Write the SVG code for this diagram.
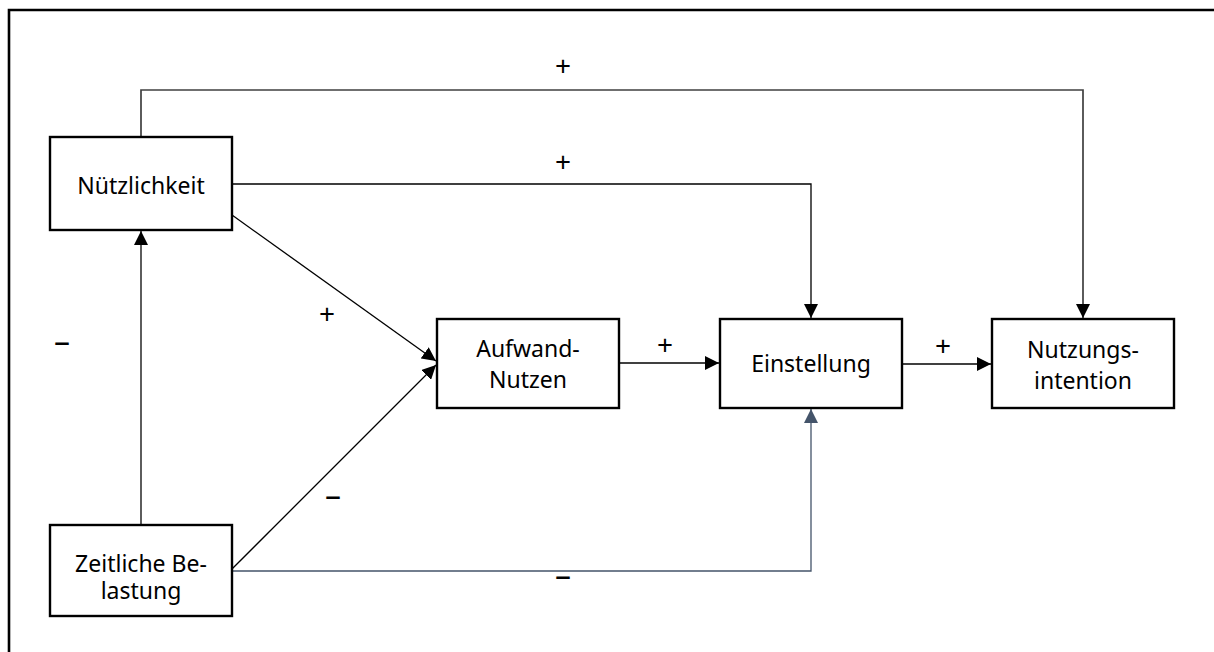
<svg xmlns="http://www.w3.org/2000/svg" width="1214" height="652" viewBox="0 0 1214 652">
  <style>
    .box { fill: #ffffff; stroke: #000000; stroke-width: 2.4; }
    .lbl { font-family: "Noto Sans", "Open Sans", sans-serif; font-size: 23px; fill: #000000; text-anchor: middle; }
    .sign { font-family: "Noto Sans", "Open Sans", sans-serif; font-size: 28px; fill: #000000; text-anchor: middle; }
    .dash { font-family: "Noto Sans", "Open Sans", sans-serif; font-size: 32px; fill: #000000; text-anchor: middle; }
    .edge { fill: none; stroke: #000000; stroke-width: 1.3; }
    .edge-gray { fill: none; stroke: #404040; stroke-width: 1.7; }
    .edge-slate { fill: none; stroke: #44546A; stroke-width: 1.3; }
  </style>
  <defs>
    <marker id="arrow" viewBox="0 0 10 10" refX="10" refY="5" markerWidth="14" markerHeight="14" markerUnits="userSpaceOnUse" orient="auto">
      <path d="M0,0 L10,5 L0,10 Z" fill="#000000"/>
    </marker>
    <marker id="arrow-slate" viewBox="0 0 10 10" refX="10" refY="5" markerWidth="14" markerHeight="14" markerUnits="userSpaceOnUse" orient="auto">
      <path d="M0,0 L10,5 L0,10 Z" fill="#44546A"/>
    </marker>
  </defs>

  <rect width="1214" height="652" fill="#ffffff"/>
  <!-- outer frame (only top and left edges fall inside the canvas) -->
  <path d="M9,700 L9,10 L1300,10" fill="none" stroke="#000000" stroke-width="2.6"/>

  <g id="connectors">
    <!-- Nützlichkeit -> Nutzungsintention (over the top) -->
    <path class="edge-gray" d="M141,137 L141,90 L1083,90 L1083,318" marker-end="url(#arrow)"/>
    <!-- Nützlichkeit -> Einstellung -->
    <path class="edge" d="M232,184 L811,184 L811,318" marker-end="url(#arrow)"/>
    <!-- Nützlichkeit -> Aufwand-Nutzen -->
    <path class="edge" d="M232,215 L436,361" marker-end="url(#arrow)"/>
    <!-- Zeitliche Belastung -> Aufwand-Nutzen -->
    <path class="edge" d="M232,569 L436,365" marker-end="url(#arrow)"/>
    <!-- Zeitliche Belastung -> Nützlichkeit -->
    <path class="edge-gray" d="M141,525 L141,231" marker-end="url(#arrow)"/>
    <!-- Zeitliche Belastung -> Einstellung -->
    <path class="edge-slate" d="M232,571 L811,571 L811,409" marker-end="url(#arrow-slate)"/>
    <!-- Aufwand-Nutzen -> Einstellung -->
    <path class="edge" d="M619,363 L719,363" marker-end="url(#arrow)"/>
    <!-- Einstellung -> Nutzungsintention -->
    <path class="edge" d="M902,364 L991,364" marker-end="url(#arrow)"/>
  </g>

  <g id="signs">
    <text class="sign" x="563" y="76">+</text>
    <text class="sign" x="563" y="172">+</text>
    <text class="sign" x="327" y="324">+</text>
    <text class="dash" x="62" y="353">–</text>
    <text class="sign" x="665" y="355">+</text>
    <text class="sign" x="943" y="356">+</text>
    <text class="dash" x="333" y="507">–</text>
    <text class="dash" x="563" y="587">–</text>
  </g>

  <g id="node-nuetzlichkeit">
    <rect class="box" x="50" y="137" width="182" height="93"/>
    <text class="lbl" x="141" y="194">Nützlichkeit</text>
  </g>

  <g id="node-zeitliche-belastung">
    <rect class="box" x="50" y="525" width="182" height="91"/>
    <text class="lbl" x="141" y="572">Zeitliche Be-</text>
    <text class="lbl" x="141" y="599">lastung</text>
  </g>

  <g id="node-aufwand-nutzen">
    <rect class="box" x="437" y="319" width="182" height="89"/>
    <text class="lbl" x="528" y="357">Aufwand-</text>
    <text class="lbl" x="528" y="388">Nutzen</text>
  </g>

  <g id="node-einstellung">
    <rect class="box" x="720" y="319" width="182" height="89"/>
    <text class="lbl" x="811" y="372">Einstellung</text>
  </g>

  <g id="node-nutzungsintention">
    <rect class="box" x="992" y="319" width="182" height="89"/>
    <text class="lbl" x="1083" y="358">Nutzungs-</text>
    <text class="lbl" x="1083" y="389">intention</text>
  </g>
</svg>
